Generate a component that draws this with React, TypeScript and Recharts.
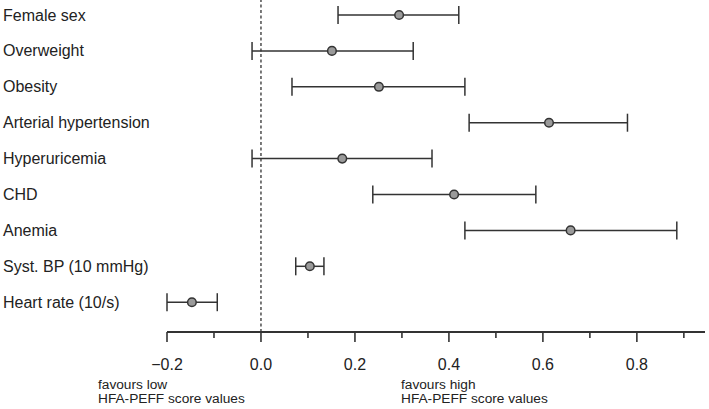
import React from "react";
import {
  ScatterChart,
  Scatter,
  XAxis,
  YAxis,
  ErrorBar,
  ReferenceLine,
} from "recharts";

const categories = [
  "Female sex",
  "Overweight",
  "Obesity",
  "Arterial hypertension",
  "Hyperuricemia",
  "CHD",
  "Anemia",
  "Syst. BP (10 mmHg)",
  "Heart rate (10/s)",
];
const estimates = [0.294, 0.151, 0.251, 0.613, 0.173, 0.411, 0.659, 0.104, -0.147];
const lowerCI = [0.164, -0.019, 0.066, 0.443, -0.019, 0.238, 0.434, 0.074, -0.2];
const upperCI = [0.421, 0.324, 0.434, 0.78, 0.364, 0.585, 0.885, 0.134, -0.093];
const xTicks = [-0.2, -0.1, 0.0, 0.1, 0.2, 0.3, 0.4, 0.5, 0.6, 0.7, 0.8, 0.9];
const footLow = ["favours low", "HFA-PEFF score values"];
const footHigh = ["favours high", "HFA-PEFF score values"];

const data = categories.map((name, i) => ({
  name,
  idx: i,
  est: estimates[i],
  err: [estimates[i] - lowerCI[i], upperCI[i] - estimates[i]],
}));

const FONT = "'Liberation Sans', Arial, Helvetica, sans-serif";
const INK = "#333";

const XTick = (props: any) => {
  const { x, y, payload } = props;
  const v = payload.value;
  const major = Math.round(v * 10) % 2 === 0;
  const label = v < 0 ? "\u2212" + Math.abs(v).toFixed(1) : v.toFixed(1);
  return (
    <g>
      <line x1={x} x2={x} y1={y} y2={y + (major ? 10 : 6)} stroke={INK} strokeWidth={1.6} />
      {major && (
        <text
          x={x}
          y={y + 38}
          textAnchor="middle"
          fontFamily={FONT}
          fontSize={16}
          fill="#222"
        >
          {label}
        </text>
      )}
    </g>
  );
};

const YTick = (props: any) => {
  const { y, payload } = props;
  return (
    <text
      x={3}
      y={y}
      dy={5.5}
      textAnchor="start"
      fontFamily={FONT}
      fontSize={16}
      fill="#222"
    >
      {categories[payload.value]}
    </text>
  );
};

const Dot = (props: any) => {
  const { cx, cy } = props;
  return <circle cx={cx} cy={cy} r={4.3} fill="#9a9a9a" stroke={INK} strokeWidth={1.5} />;
};

export default function App() {
  const footStyle: React.CSSProperties = {
    position: "absolute",
    top: 378,
    fontFamily: FONT,
    fontSize: 13.7,
    lineHeight: "13.5px",
    color: "#222",
    whiteSpace: "nowrap",
  };
  return (
    <div style={{ position: "absolute", left: 0, top: 0, width: 709, height: 409, background: "#fff" }}>
      <ScatterChart
        width={709}
        height={409}
        margin={{ top: 0, right: 4, bottom: 0, left: 0 }}
      >
        <XAxis
          type="number"
          dataKey="est"
          domain={[-0.2, 0.945]}
          ticks={xTicks}
          allowDataOverflow
          height={77}
          tickSize={0}
          tickMargin={0}
          tickLine={false}
          axisLine={{ stroke: INK, strokeWidth: 1.8 }}
          tick={<XTick />}
          interval={0}
        />
        <YAxis
          type="number"
          dataKey="idx"
          domain={[-0.418, 8.83]}
          reversed
          allowDataOverflow
          ticks={[0, 1, 2, 3, 4, 5, 6, 7, 8]}
          width={167}
          axisLine={false}
          tickLine={false}
          tick={<YTick />}
          interval={0}
        />
        <ReferenceLine x={0} stroke={INK} strokeWidth={1.3} strokeDasharray="3 2.5" />
        <Scatter data={data} isAnimationActive={false} shape={<Dot />}>
          <ErrorBar
            dataKey="err"
            direction="x"
            width={9}
            stroke={INK}
            strokeWidth={1.5}
            isAnimationActive={false}
          />
        </Scatter>
      </ScatterChart>
      <div style={{ ...footStyle, left: 98 }}>
        {footLow[0]}
        <br />
        {footLow[1]}
      </div>
      <div style={{ ...footStyle, left: 401 }}>
        {footHigh[0]}
        <br />
        {footHigh[1]}
      </div>
    </div>
  );
}
